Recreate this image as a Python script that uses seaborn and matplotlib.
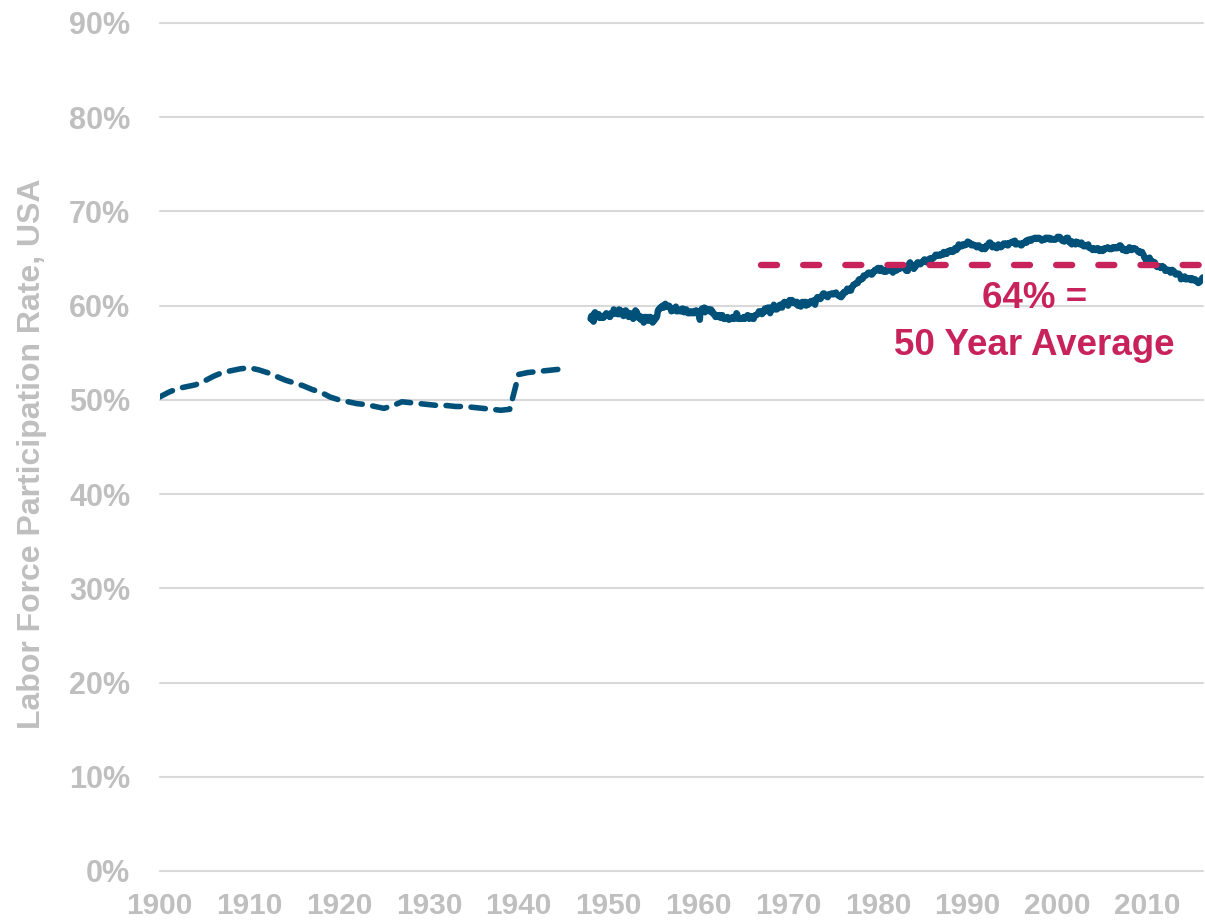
import numpy as np
import pandas as pd
import matplotlib
matplotlib.use("Agg")
import matplotlib.pyplot as plt
import seaborn as sns

# ---- data -------------------------------------------------------------
# Historical annual estimates, 1900-1945 (percent)
early_years = list(range(1900, 1946))
early_rate = [
    50.3, 50.8, 51.2, 51.4, 51.6, 52.0, 52.5, 52.9, 53.1, 53.3,
    53.4, 53.2, 52.9, 52.5, 52.1, 51.8, 51.5, 51.1, 50.8, 50.3,
    50.0, 49.8, 49.6, 49.5, 49.3, 49.1, 49.4, 49.8, 49.7, 49.6,
    49.5, 49.4, 49.4, 49.3, 49.3, 49.2, 49.1, 49.0, 48.9, 49.0,
    52.7, 52.9, 53.0, 53.1, 53.2, 53.3,
]

# Monthly civilian participation rate, Jan 1948 onward (percent)
MONTHLY_START = 1948
rate_1940s = [
    58.6, 58.9, 58.5, 59.0, 58.3, 59.2, 59.3, 59.2, 58.9, 58.8, 58.9, 59.1,
    58.7, 58.8, 58.7, 58.8, 58.9, 58.7, 58.8, 59.0, 58.9, 59.2, 59.0, 58.9,
]
rate_1950s = [
    58.9, 58.9, 58.8, 59.2, 59.1, 59.1, 59.1, 59.6, 59.2, 59.4, 59.3, 59.2,
    59.1, 59.1, 59.6, 59.1, 59.5, 59.3, 59.3, 59.3, 58.9, 59.4, 59.1, 59.5,
    59.4, 59.3, 58.9, 58.8, 59.1, 59.2, 58.8, 58.8, 59.1, 58.6, 59.2, 59.3,
    59.5, 59.2, 59.3, 59.0, 58.7, 58.9, 58.9, 58.5, 58.6, 58.5, 58.5, 58.2,
    58.8, 58.8, 58.5, 58.8, 58.5, 58.4, 58.7, 58.8, 58.8, 58.7, 58.6, 58.2,
    58.5, 58.4, 58.5, 58.8, 58.7, 58.9, 59.5, 59.6, 59.6, 59.8, 59.8, 59.8,
    60.0, 59.8, 59.8, 60.0, 60.2, 60.0, 59.9, 59.9, 59.9, 60.0, 59.8, 59.7,
    59.4, 59.7, 59.5, 59.6, 59.6, 59.6, 59.9, 59.4, 59.4, 59.5, 59.6, 59.5,
    59.4, 59.4, 59.4, 59.7, 59.6, 59.3, 59.6, 59.6, 59.6, 59.4, 59.2, 59.3,
    59.2, 59.2, 59.4, 59.3, 59.2, 59.2, 59.4, 59.4, 59.2, 59.5, 59.4, 59.4,
]
rate_1960s = [
    59.1, 59.1, 58.5, 59.5, 59.5, 59.7, 59.5, 59.5, 59.8, 59.3, 59.7, 59.6,
    59.6, 59.6, 59.5, 59.4, 59.6, 59.6, 59.3, 59.4, 59.1, 59.1, 59.1, 58.8,
    58.9, 59.0, 58.8, 58.8, 59.0, 59.0, 58.7, 58.8, 59.0, 58.7, 58.6, 58.6,
    58.6, 58.6, 58.6, 58.8, 58.6, 58.5, 58.6, 58.6, 58.7, 58.7, 58.8, 58.6,
    58.6, 58.8, 58.8, 59.2, 59.1, 58.6, 58.6, 58.6, 58.6, 58.6, 58.6, 58.7,
    58.6, 58.8, 58.6, 58.8, 58.8, 58.8, 59.0, 58.7, 58.6, 58.8, 58.9, 58.8,
    58.8, 58.6, 58.6, 58.9, 59.0, 59.0, 59.0, 59.1, 59.2, 59.4, 59.4, 59.4,
    59.3, 59.1, 59.4, 59.4, 59.3, 59.7, 59.6, 59.6, 59.7, 59.8, 59.8, 59.8,
    59.2, 59.6, 59.6, 59.6, 59.8, 60.1, 59.8, 59.6, 59.6, 59.6, 59.7, 59.9,
    59.8, 60.1, 60.0, 59.9, 59.8, 60.2, 60.3, 60.4, 60.2, 60.3, 60.2, 60.3,
]
rate_1970s = [
    60.0, 60.2, 60.6, 60.3, 60.5, 60.6, 60.3, 60.4, 60.3, 60.4, 60.2, 60.4,
    60.4, 60.0, 60.1, 60.2, 60.1, 59.9, 60.2, 60.4, 60.2, 60.3, 60.4, 60.4,
    60.0, 60.2, 60.3, 60.1, 60.2, 60.4, 60.4, 60.5, 60.3, 60.3, 60.4, 60.6,
    60.1, 60.6, 60.7, 60.9, 60.7, 60.9, 60.9, 60.7, 60.8, 61.0, 61.2, 61.3,
    61.3, 61.1, 61.1, 61.0, 61.0, 60.9, 61.2, 61.2, 61.2, 61.2, 61.3, 61.3,
    61.2, 61.2, 61.3, 61.3, 61.4, 61.2, 61.2, 61.1, 61.0, 61.0, 61.0, 60.9,
    61.2, 61.1, 61.4, 61.4, 61.5, 61.4, 61.6, 61.8, 61.6, 61.6, 61.8, 61.8,
    61.6, 61.9, 62.0, 62.2, 62.2, 62.3, 62.3, 62.4, 62.4, 62.4, 62.7, 62.8,
    62.7, 62.8, 62.8, 62.9, 62.9, 63.2, 63.2, 63.2, 63.2, 63.3, 63.4, 63.5,
    63.5, 63.5, 63.5, 63.3, 63.3, 63.4, 63.6, 63.6, 63.8, 63.7, 63.8, 63.9,
]
rate_1980s = [
    64.0, 64.0, 63.7, 63.8, 64.0, 63.7, 63.8, 63.7, 63.6, 63.7, 63.8, 63.6,
    63.8, 63.8, 63.9, 64.2, 64.3, 63.7, 63.8, 63.8, 63.5, 63.8, 63.9, 63.7,
    63.7, 63.8, 63.8, 63.9, 64.2, 63.9, 64.0, 64.1, 64.1, 64.1, 64.2, 64.1,
    63.9, 63.8, 63.7, 63.8, 63.7, 64.3, 64.5, 64.6, 64.4, 64.3, 64.2, 64.3,
    63.9, 64.1, 64.1, 64.3, 64.5, 64.6, 64.6, 64.4, 64.4, 64.4, 64.5, 64.6,
    64.7, 64.7, 64.9, 64.9, 64.8, 64.6, 64.7, 64.7, 64.9, 65.0, 64.9, 65.0,
    64.9, 65.0, 65.1, 65.1, 65.2, 65.4, 65.4, 65.3, 65.4, 65.4, 65.4, 65.3,
    65.4, 65.5, 65.5, 65.4, 65.7, 65.5, 65.6, 65.7, 65.5, 65.7, 65.8, 65.7,
    65.8, 65.9, 65.7, 65.8, 65.7, 65.8, 65.9, 66.1, 65.9, 65.9, 66.2, 66.1,
    66.5, 66.3, 66.3, 66.4, 66.3, 66.5, 66.5, 66.5, 66.4, 66.5, 66.6, 66.5,
]
rate_1990s = [
    66.8, 66.7, 66.7, 66.6, 66.6, 66.4, 66.5, 66.5, 66.4, 66.4, 66.4, 66.4,
    66.2, 66.2, 66.3, 66.4, 66.2, 66.2, 66.1, 66.0, 66.2, 66.1, 66.1, 66.0,
    66.3, 66.2, 66.4, 66.5, 66.6, 66.7, 66.7, 66.6, 66.5, 66.2, 66.3, 66.4,
    66.2, 66.2, 66.2, 66.1, 66.4, 66.5, 66.4, 66.4, 66.2, 66.3, 66.3, 66.4,
    66.6, 66.6, 66.5, 66.5, 66.6, 66.4, 66.4, 66.6, 66.6, 66.7, 66.7, 66.7,
    66.8, 66.8, 66.7, 66.9, 66.5, 66.5, 66.6, 66.6, 66.6, 66.6, 66.5, 66.4,
    66.4, 66.6, 66.6, 66.7, 66.7, 66.7, 66.9, 66.7, 66.9, 67.0, 66.9, 67.0,
    67.0, 66.9, 67.1, 67.1, 67.1, 67.1, 67.2, 67.2, 67.1, 67.1, 67.2, 67.2,
    67.1, 67.1, 67.1, 66.9, 67.0, 67.0, 67.0, 67.0, 67.2, 67.2, 67.1, 67.2,
    67.2, 67.2, 67.0, 67.1, 67.1, 67.1, 67.0, 67.0, 67.0, 67.0, 67.1, 67.1,
]
rate_2000s = [
    67.3, 67.3, 67.3, 67.3, 67.1, 67.1, 66.9, 66.9, 66.9, 66.8, 66.9, 67.0,
    67.2, 67.1, 67.2, 66.9, 66.7, 66.7, 66.8, 66.5, 66.8, 66.7, 66.7, 66.7,
    66.5, 66.8, 66.6, 66.7, 66.7, 66.6, 66.5, 66.6, 66.7, 66.6, 66.4, 66.3,
    66.4, 66.4, 66.3, 66.4, 66.4, 66.5, 66.2, 66.1, 66.1, 66.1, 66.1, 65.9,
    66.1, 66.0, 66.0, 65.9, 66.0, 66.1, 66.1, 66.0, 65.8, 65.9, 66.0, 65.9,
    65.8, 65.9, 65.9, 66.1, 66.1, 66.1, 66.1, 66.2, 66.1, 66.1, 66.0, 66.0,
    66.0, 66.1, 66.2, 66.1, 66.1, 66.2, 66.1, 66.2, 66.1, 66.2, 66.3, 66.4,
    66.4, 66.3, 66.2, 65.9, 66.0, 66.0, 66.0, 65.8, 66.0, 65.8, 66.0, 66.0,
    66.2, 66.0, 66.1, 65.9, 66.1, 66.1, 66.1, 66.1, 66.0, 66.0, 65.9, 65.8,
    65.7, 65.8, 65.6, 65.7, 65.7, 65.7, 65.5, 65.4, 65.1, 65.0, 65.0, 64.6,
]
rate_2010s = [
    64.8, 64.9, 64.9, 65.1, 64.9, 64.6, 64.6, 64.7, 64.6, 64.4, 64.6, 64.3,
    64.2, 64.1, 64.2, 64.2, 64.1, 64.1, 64.0, 64.1, 64.2, 64.1, 64.1, 64.0,
    63.7, 63.8, 63.8, 63.7, 63.8, 63.8, 63.7, 63.5, 63.6, 63.8, 63.6, 63.7,
    63.6, 63.4, 63.3, 63.4, 63.4, 63.4, 63.4, 63.3, 63.2, 62.8, 63.0, 62.9,
    62.9, 62.9, 63.1, 62.8, 62.8, 62.8, 62.9, 62.9, 62.8, 62.9, 62.9, 62.7,
    62.9, 62.8, 62.7, 62.7, 62.8, 62.6, 62.6, 62.6, 62.4, 62.5, 62.5, 62.7,
    62.7, 62.9, 63.0,
]

# 50-year average reference line
AVG_RATE = 64.3
AVG_START = 1967

x_ticks = list(range(1900, 2011, 10))
y_ticks = list(range(0, 91, 10))
y_label = "Labor Force Participation Rate, USA"
note_top = "64% ="
note_bottom = "50 Year Average"

# ---- styling ---------------------------------------------------------
BLUE = "#00517A"
RED = "#C8225A"
GREY_TEXT = "#BFBFBF"
GRID = "#D9D9D9"
X_MAX = 2016.2

sns.set_theme(style="white")
plt.rcParams["font.family"] = ["Liberation Sans", "DejaVu Sans"]
plt.rcParams["font.weight"] = "bold"

fig = plt.figure(figsize=(12.05, 9.23), dpi=100)
ax = fig.add_axes([159.5 / 1205, 52 / 923, (1203 - 159.5) / 1205, 848 / 923])

df_early = pd.DataFrame({"year": early_years, "rate": early_rate})

monthly = rate_1940s + rate_1950s + rate_1960s + rate_1970s + rate_1980s + rate_1990s + rate_2000s + rate_2010s
df_modern = pd.DataFrame({
    "year": MONTHLY_START + np.arange(len(monthly)) / 12.0,
    "rate": monthly,
})

df_avg = pd.DataFrame({"year": [AVG_START, X_MAX], "rate": [AVG_RATE, AVG_RATE]})

sns.lineplot(data=df_early, x="year", y="rate", ax=ax, color=BLUE, lw=4.0,
             linestyle=(0, (2.6, 1.9)), dash_capstyle="round",
             solid_capstyle="round", errorbar=None, zorder=3)
sns.lineplot(data=df_modern, x="year", y="rate", ax=ax, color=BLUE, lw=4.6,
             solid_capstyle="round", solid_joinstyle="round", errorbar=None, zorder=3)
sns.lineplot(data=df_avg, x="year", y="rate", ax=ax, color=RED, lw=4.6,
             linestyle=(0, (2.5, 4.1)), dash_capstyle="round",
             errorbar=None, zorder=4, clip_on=False)

ax.set_xlim(1900, X_MAX)
ax.set_ylim(0, 90)
ax.set_xticks(x_ticks)
ax.set_xticklabels([str(t) for t in x_ticks])
ax.set_yticks(y_ticks)
ax.set_yticklabels([f"{t}%" for t in y_ticks])

ax.yaxis.grid(True, color=GRID, lw=1.5)
ax.xaxis.grid(False)
for s in ax.spines.values():
    s.set_visible(False)
for gl in ax.get_ygridlines():
    gl.set_clip_on(False)

ax.tick_params(axis="x", length=0, pad=15, labelsize=21.5, labelcolor=GREY_TEXT)
ax.tick_params(axis="y", length=0, pad=21, labelsize=22, labelcolor=GREY_TEXT)
for lab in ax.get_xticklabels() + ax.get_yticklabels():
    lab.set_fontweight("bold")

ax.set_xlabel("")
ax.set_ylabel(y_label, fontsize=23, color=GREY_TEXT, fontweight="bold")
ax.yaxis.set_label_coords(-0.108, 0.492)

ax.text(1997.4, 59.8, note_top, ha="center", va="baseline",
        fontsize=26.5, color=RED, fontweight="bold")
ax.text(1997.4, 54.75, note_bottom, ha="center", va="baseline",
        fontsize=26.5, color=RED, fontweight="bold")

fig.savefig("out.png", dpi=100, facecolor="white")
